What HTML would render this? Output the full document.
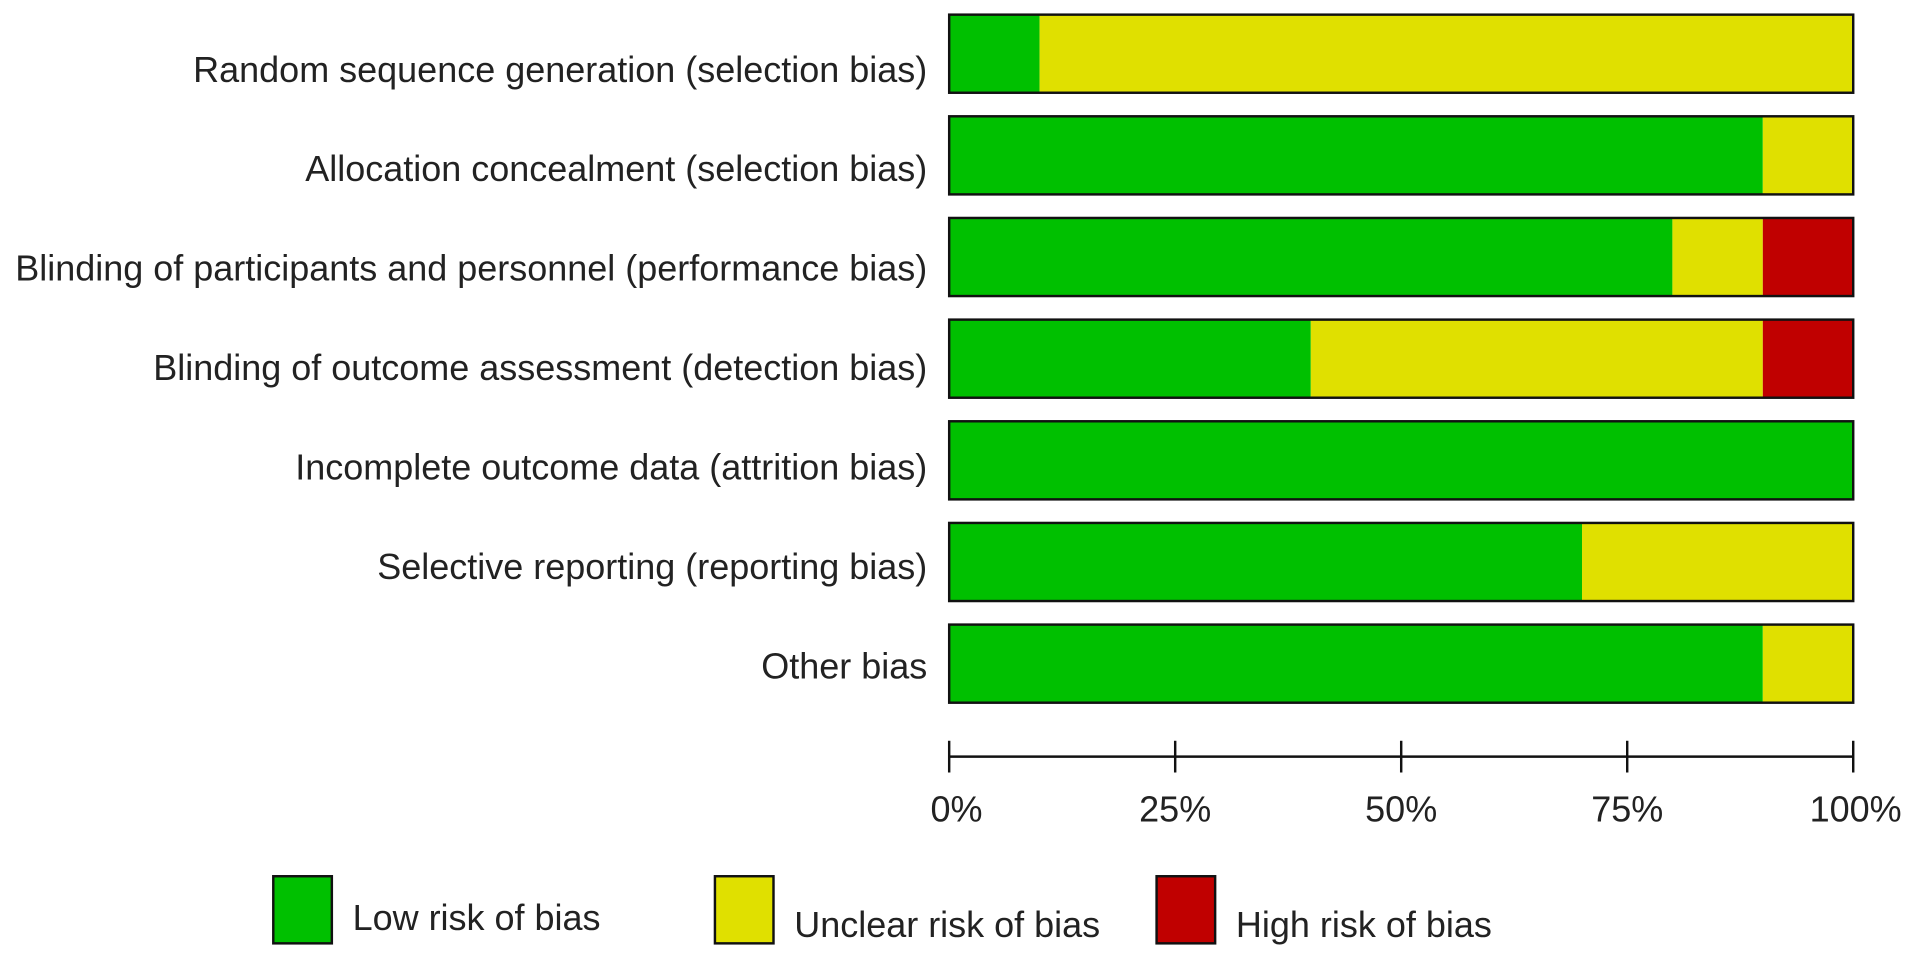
<!DOCTYPE html>
<html><head><meta charset="utf-8"><style>
html,body{margin:0;padding:0;background:#fff;}
svg{display:block;font-family:"Liberation Sans",Arial,sans-serif;}
</style></head><body>
<svg id="chart" width="1913" height="958" viewBox="0 0 1568 785" preserveAspectRatio="none" xmlns="http://www.w3.org/2000/svg">
<g id="bars"></g>
<g id="axis"></g>
<g id="legend"></g>
</svg>
<script>
const categories = ["Random sequence generation (selection bias)","Allocation concealment (selection bias)","Blinding of participants and personnel (performance bias)","Blinding of outcome assessment (detection bias)","Incomplete outcome data (attrition bias)","Selective reporting (reporting bias)","Other bias"];
const lowRisk = [10,90,80,40,100,70,90];
const unclearRisk = [90,10,10,50,0,30,10];
const highRisk = [0,0,10,10,0,0,0];
const tickValues = [0,25,50,75,100];
const tickLabels = ["0%","25%","50%","75%","100%"];
const seriesNames = ["Low risk of bias","Unclear risk of bias","High risk of bias"];
const colors = ["#00c000","#e0e000","#c00000"];

const NS = "http://www.w3.org/2000/svg";
const x0 = 778, x1 = 1519;
const FS = 29.5;
const xScale = v => x0 + (x1 - x0) * v / 100;
const rowTop = i => 12 + i * 83.3;
const barH = 64;
function mk(tag, attrs, parent){const e=document.createElementNS(NS,tag);for(const k in attrs)e.setAttribute(k,attrs[k]);parent.appendChild(e);return e;}
const bars = document.getElementById('bars');
const series = [lowRisk, unclearRisk, highRisk];
categories.forEach((c,i)=>{
  const y = rowTop(i);
  const t = mk('text',{x:760,y:y+barH/2+10+(13-1.8*i),'text-anchor':'end','font-size':FS,fill:'#222'},bars);
  t.textContent = c;
  
  
  let acc = 0;
  series.forEach((s,k)=>{
    if(s[i] > 0){
      const r = mk('rect',{x:xScale(acc),y:y,width:xScale(acc+s[i])-xScale(acc),height:barH,fill:colors[k]},bars);
      
      
    }
    acc += s[i];
  });
  const o = mk('rect',{x:x0,y:y,width:x1-x0,height:barH,fill:'none',stroke:'#111','stroke-width':2},bars);
  
  
});
const axis = document.getElementById('axis');
const al = mk('line',{x1:x0,x2:x1,y1:620,y2:620,stroke:'#111','stroke-width':2},axis);


tickValues.forEach((v,i)=>{
  const tk = mk('line',{x1:xScale(v),x2:xScale(v),y1:607,y2:633,stroke:'#111','stroke-width':2},axis);
  
  
  const tl = mk('text',{x:xScale(v)+(i===0?6:i===4?2:0),y:673,'text-anchor':'middle','font-size':FS,fill:'#222'},axis);
  tl.textContent = tickLabels[i];
  
  
});
const legend = document.getElementById('legend');
const lx = [224,586,948];
const ty = [762,768,768];
seriesNames.forEach((n,k)=>{
  const b = mk('rect',{x:lx[k],y:718,width:48,height:55,fill:colors[k],stroke:'#111','stroke-width':2},legend);
  
  
  const t = mk('text',{x:lx[k]+65,y:ty[k],'font-size':FS,fill:'#222'},legend);
  t.textContent = n;
  
  
});
</script>
</body></html>
